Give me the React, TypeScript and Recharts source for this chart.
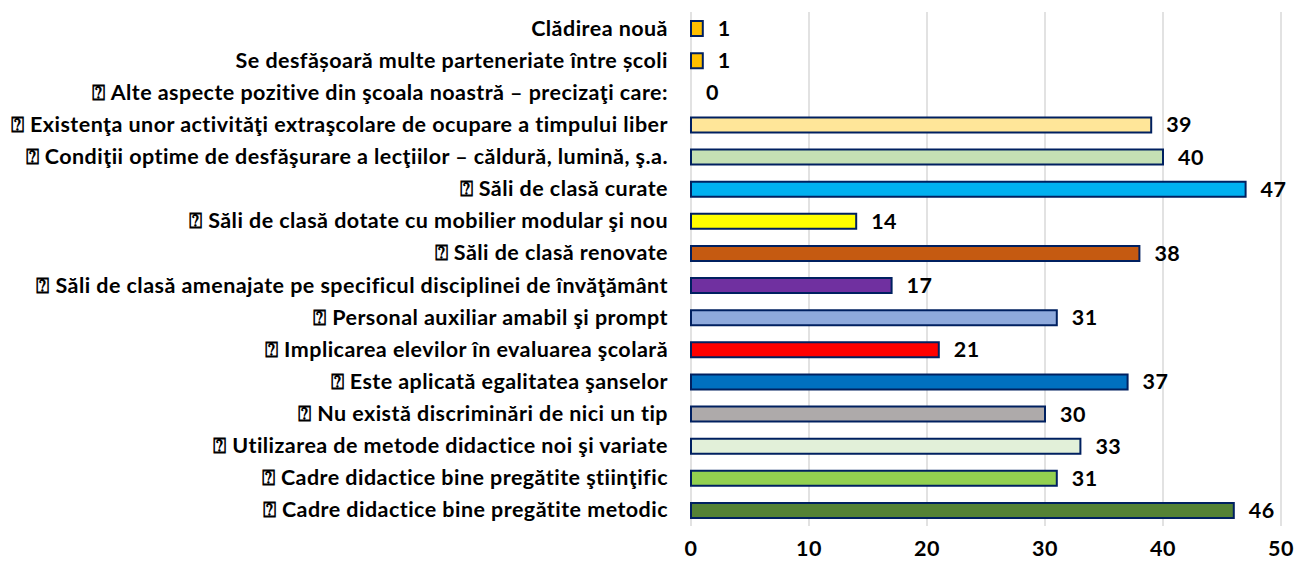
import { BarChart, Bar, XAxis, YAxis, CartesianGrid, LabelList, Cell } from 'recharts'

const categorii = [
  'Clădirea nouă',
  'Se desfășoară multe parteneriate între școli',
  '⍰ Alte aspecte pozitive din şcoala noastră – precizaţi care:',
  '⍰ Existenţa unor activităţi extraşcolare de ocupare a timpului liber',
  '⍰ Condiţii optime de desfăşurare a lecţiilor – căldură, lumină, ş.a.',
  '⍰ Săli de clasă curate',
  '⍰ Săli de clasă dotate cu mobilier modular şi nou',
  '⍰ Săli de clasă renovate',
  '⍰ Săli de clasă amenajate pe specificul disciplinei de învăţământ',
  '⍰ Personal auxiliar amabil şi prompt',
  '⍰ Implicarea elevilor în evaluarea şcolară',
  '⍰ Este aplicată egalitatea şanselor',
  '⍰ Nu există discriminări de nici un tip',
  '⍰ Utilizarea de metode didactice noi şi variate',
  '⍰ Cadre didactice bine pregătite ştiinţific',
  '⍰ Cadre didactice bine pregătite metodic',
]

const raspunsuri = [1, 1, 0, 39, 40, 47, 14, 38, 17, 31, 21, 37, 30, 33, 31, 46]

const xTicks = [0, 10, 20, 30, 40, 50]

const culori = [
  '#FFC000', '#FFC000', '#FFC000', '#FFE699', '#C5E0B4', '#00B0F0', '#FFFF00', '#C55A11',
  '#7030A0', '#8FAADC', '#FF0000', '#0070C0', '#AEAAAA', '#E2F0D9', '#92D050', '#548235',
]

const textStyle = {
  fontFamily: 'Lato, "Open Sans", sans-serif',
  fontWeight: 700,
  fontSize: 21.5,
  letterSpacing: 0.45,
  fill: '#000',
}

const donnees = categorii.map((nume, i) => ({ nume, valoare: raspunsuri[i] }))

function EticheteY(props: any) {
  const { x, y, payload } = props
  return (
    <text x={x} y={y} dy={7.5} textAnchor="end" style={textStyle}>
      {payload.value}
    </text>
  )
}

// eticheta valorii, desenata si pentru bara de lungime 0
function EtichetaValoare(props: any) {
  const { x, y, width, height, value } = props
  if (value == null) return null
  return (
    <text x={Number(x) + Number(width || 0) + 15} y={Number(y) + Number(height) / 2} dy={7.5} style={textStyle}>
      {value}
    </text>
  )
}

export default function App() {
  return (
    <div style={{ position: 'absolute', left: 0, top: 0, width: 1296, height: 565, background: '#fff' }}>
      <BarChart
        width={1296}
        height={565}
        data={donnees}
        layout="vertical"
        margin={{ top: 12, right: 15, bottom: 0, left: 0 }}
        barSize={15}
      >
        <CartesianGrid horizontal={false} stroke="#d9d9d9" strokeWidth={1.5} />
        <XAxis
          type="number"
          domain={[0, 50]}
          ticks={xTicks}
          height={39}
          axisLine={false}
          tickLine={false}
          tickSize={0}
          tickMargin={15}
          interval={0}
          tick={textStyle}
        />
        <YAxis
          type="category"
          dataKey="nume"
          width={691}
          axisLine={false}
          tickLine={false}
          tickSize={0}
          tickMargin={23}
          interval={0}
          tick={<EticheteY />}
        />
        <Bar dataKey="valoare" stroke="#002060" strokeWidth={2} minPointSize={0.01} isAnimationActive={false}>
          {donnees.map((d, i) => (
            <Cell
              key={d.nume}
              fill={d.valoare === 0 ? 'none' : culori[i]}
              stroke={d.valoare === 0 ? 'none' : '#002060'}
            />
          ))}
          <LabelList dataKey="valoare" content={<EtichetaValoare />} />
        </Bar>
      </BarChart>
    </div>
  )
}
